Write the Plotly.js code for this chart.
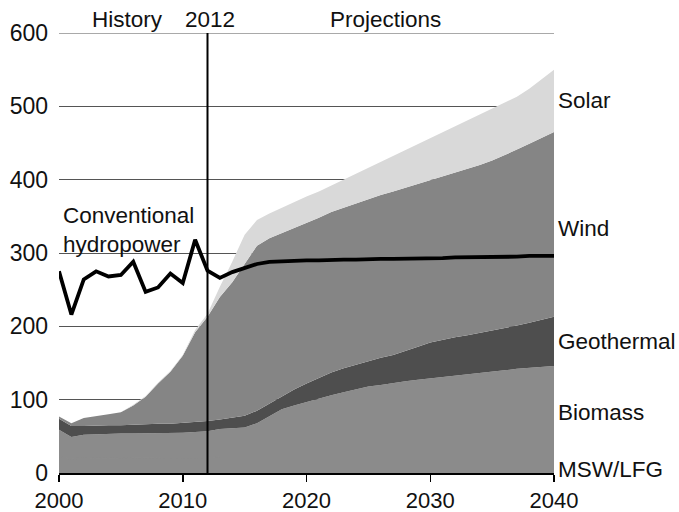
<!DOCTYPE html>
<html>
<head>
<meta charset="utf-8">
<script src="https://cdn.plot.ly/plotly-3.0.1.min.js"></script>
<style>
  html, body { margin: 0; padding: 0; background: #ffffff; }
  #chart { width: 679px; height: 512px; }
</style>
</head>
<body>
<div id="chart"></div>
<script>
const years = [2000,2001,2002,2003,2004,2005,2006,2007,2008,2009,2010,2011,2012,2013,2014,2015,2016,2017,2018,2019,2020,2021,2022,2023,2024,2025,2026,2027,2028,2029,2030,2031,2032,2033,2034,2035,2036,2037,2038,2039,2040];
const msw        = [23,19,20,20,20,20,20,20,21,21,21,21,21,22,22,22,22,22,22,22,22,22,22,22,22,22,22,22,22,22,22,22,22,22,22,22,22,22,22,22,22];
const biomass    = [36,30,32,33,33,34,34,34,33,33,34,35,36,38,39,40,46,55,65,70,75,79,84,88,92,96,98,101,103,105,107,109,111,112,114,116,118,120,121,123,124];
const geothermal = [15,15,12,12,12,11,12,12,13,13,13,14,14,13,15,16,17,18,18,22,25,29,31,33,34,34,37,38,41,45,49,51,52,54,55,56,57,59,62,64,67];
const wind       = [3,4,11,12,15,18,26,38,55,71,92,122,142,167,184,207,225,225,222,220,218,218,219,219,220,221,222,223,223,222,221,222,225,227,229,232,236,240,244,248,252];
const solar      = [0,0,0,0,0,0,1,1,1,1,1,3,4,14,28,40,35,34,35,36,37,36,36,38,40,43,45,48,51,54,57,60,62,65,68,70,71,72,75,80,85];
const hydro      = [275,216,264,275,268,270,288,247,253,272,259,318,276,266,274,280,285,288,289,290,290,290,291,291,291,292,292,292,292,293,293,293,294,294,294,295,295,295,296,296,296];

const seriesNames = ["MSW/LFG","Biomass","Geothermal","Wind","Solar"];
const xTicks = [2000,2010,2020,2030,2040];
const yTicks = [0,100,200,300,400,500,600];
const splitYear = 2012;

const FONT = '"Liberation Sans", Arial, sans-serif';
const fills = ['#8b8b8b','#8b8b8b','#4e4e4e','#858585','#d9d9d9'];
const stackData = [msw, biomass, geothermal, wind, solar];

const traces = stackData.map((vals, i) => ({
  type: 'scatter', mode: 'lines', x: years, y: vals, name: seriesNames[i],
  stackgroup: 'renew', line: {width: (i === 0 ? 1.5 : 0), color: fills[i]}, fillcolor: fills[i],
  hoverinfo: 'skip'
}));
traces.push({
  type: 'scatter', mode: 'lines', x: years, y: hydro, name: 'Conventional hydropower',
  line: {color: '#000000', width: 3.8}, hoverinfo: 'skip'
});

const TXT = 22.5;
const labelY = {"Solar":508, "Wind":334, "Geothermal":180, "Biomass":82, "MSW/LFG":5};
const annotations = seriesNames.map(n => ({
  x: 2040, y: labelY[n], xref: 'x', yref: 'y', text: n, showarrow: false,
  xanchor: 'left', yanchor: 'middle', xshift: 2,
  font: {family: FONT, size: TXT, color: '#111'}
}));
annotations.push(
  {x: 2005.5, y: 1.031, xref: 'x', yref: 'paper', text: 'History', showarrow: false, xanchor: 'center', yanchor: 'middle', font: {family: FONT, size: TXT, color: '#111'}},
  {x: 2012.2, y: 1.031, xref: 'x', yref: 'paper', text: '2012', showarrow: false, xanchor: 'center', yanchor: 'middle', font: {family: FONT, size: TXT, color: '#111'}},
  {x: 2026.4, y: 1.031, xref: 'x', yref: 'paper', text: 'Projections', showarrow: false, xanchor: 'center', yanchor: 'middle', font: {family: FONT, size: TXT, color: '#111'}},
  {x: 2000.2, y: 331, xref: 'x', yref: 'y', text: 'Conventional<br>hydropower', showarrow: false, xanchor: 'left', yanchor: 'middle', align: 'left', font: {family: FONT, size: TXT, color: '#111'}}
);

const layout = {
  width: 679, height: 512,
  margin: {l: 59, r: 125, t: 33, b: 39, pad: 0},
  paper_bgcolor: '#ffffff', plot_bgcolor: '#ffffff',
  showlegend: false,
  xaxis: {
    range: [2000, 2040], tickvals: xTicks, ticktext: xTicks.map(String),
    showgrid: false, zeroline: false, showline: true, linecolor: '#000', linewidth: 1.5,
    ticks: 'outside', ticklen: 7, tickwidth: 1.5, tickcolor: '#000', ticklabelstandoff: 0,
    tickfont: {family: FONT, size: 22, color: '#111'}, fixedrange: true
  },
  yaxis: {
    range: [0, 600], tickvals: yTicks, ticktext: yTicks.map(String),
    showgrid: true, gridcolor: '#555555', gridwidth: 1, zeroline: false, showline: false,
    ticks: '', ticklabelstandoff: 10,
    tickfont: {family: FONT, size: 23, color: '#111'}, fixedrange: true
  },
  shapes: [
    {type: 'line', xref: 'x', yref: 'y', x0: 2000, x1: 2040, y0: 600, y1: 600,
     line: {color: '#555555', width: 1}, layer: 'below'},
    {type: 'line', xref: 'x', yref: 'y', x0: splitYear, x1: splitYear, y0: 0, y1: 600,
     line: {color: '#000', width: 2}, layer: 'above'}
  ],
  annotations: annotations
};

Plotly.newPlot('chart', traces, layout, {staticPlot: true, displayModeBar: false});
</script>
</body>
</html>
